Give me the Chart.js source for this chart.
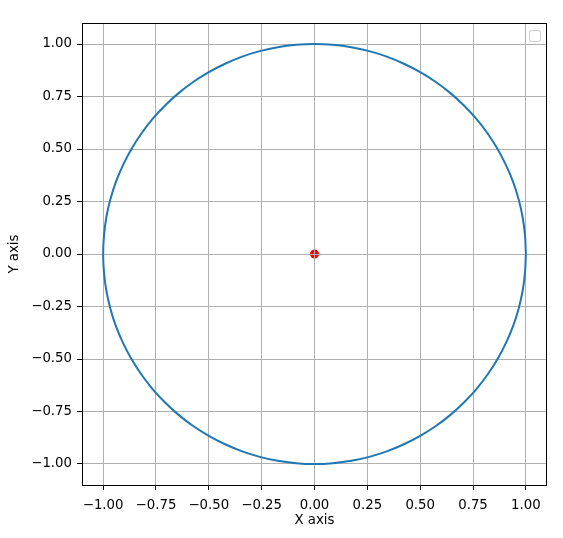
<!DOCTYPE html>
<html lang="en">
<head>
  <meta charset="UTF-8">
  <title>Circle</title>
  <style>
    body {
        margin: 0;
        padding: 0;
        background: #fff;
    }
    .wrap {
        width: 563px;
        height: 538px;
        position: relative;
    }
  </style>
</head>
<body>
  <div class="wrap">
    <canvas id="circleChart" width="563" height="538"></canvas>
  </div>

  <script src="https://cdn.jsdelivr.net/npm/chart.js"></script>
  <script>
    // data
    const axisTicks = [-1.0, -0.75, -0.5, -0.25, 0.0, 0.25, 0.5, 0.75, 1.0];
    const circleX = [1.000, 0.996, 0.985, 0.966, 0.940, 0.906, 0.866, 0.819, 0.766, 0.707,
                     0.643, 0.574, 0.500, 0.423, 0.342, 0.259, 0.174, 0.087, 0.000,
                     -0.087, -0.174, -0.259, -0.342, -0.423, -0.500, -0.574, -0.643, -0.707,
                     -0.766, -0.819, -0.866, -0.906, -0.940, -0.966, -0.985, -0.996, -1.000,
                     -0.996, -0.985, -0.966, -0.940, -0.906, -0.866, -0.819, -0.766, -0.707,
                     -0.643, -0.574, -0.500, -0.423, -0.342, -0.259, -0.174, -0.087, 0.000,
                     0.087, 0.174, 0.259, 0.342, 0.423, 0.500, 0.574, 0.643, 0.707,
                     0.766, 0.819, 0.866, 0.906, 0.940, 0.966, 0.985, 0.996, 1.000];
    const circleY = [0.000, 0.087, 0.174, 0.259, 0.342, 0.423, 0.500, 0.574, 0.643, 0.707,
                     0.766, 0.819, 0.866, 0.906, 0.940, 0.966, 0.985, 0.996, 1.000,
                     0.996, 0.985, 0.966, 0.940, 0.906, 0.866, 0.819, 0.766, 0.707,
                     0.643, 0.574, 0.500, 0.423, 0.342, 0.259, 0.174, 0.087, 0.000,
                     -0.087, -0.174, -0.259, -0.342, -0.423, -0.500, -0.574, -0.643, -0.707,
                     -0.766, -0.819, -0.866, -0.906, -0.940, -0.966, -0.985, -0.996, -1.000,
                     -0.996, -0.985, -0.966, -0.940, -0.906, -0.866, -0.819, -0.766, -0.707,
                     -0.643, -0.574, -0.500, -0.423, -0.342, -0.259, -0.174, -0.087, 0.000];
    const centerX = [0];
    const centerY = [0];

    const FONT = "'DejaVu Sans', sans-serif";
    const FONT_SIZE = 13.3;

    function fmtTick(v) {
      return Number(v).toFixed(2).replace('-', '\u2212');
    }

    // frame, axis titles, empty legend box
    const framePlugin = {
      id: 'frame',
      beforeDatasetDraw(chart, args) {
        // grid sits above the scatter point but under the line
        if (args.index === 0) {
          chart.scales.x.drawGrid(chart.chartArea);
          chart.scales.y.drawGrid(chart.chartArea);
        }
      },
      afterDraw(chart) {
        const ctx = chart.ctx;
        const a = chart.chartArea;
        ctx.save();
        ctx.strokeStyle = '#000';
        ctx.lineWidth = 1;
        ctx.strokeRect(a.left + 0.5, a.top + 0.5, a.right - a.left - 1, a.bottom - a.top);

        ctx.fillStyle = '#000';
        ctx.font = FONT_SIZE + 'px ' + FONT;
        ctx.textAlign = 'center';
        ctx.textBaseline = 'middle';
        ctx.fillText('X axis', (a.left + a.right) / 2, 521);
        ctx.translate(15, (a.top + a.bottom) / 2);
        ctx.rotate(-Math.PI / 2);
        ctx.fillText('Y axis', 0, 0);
        ctx.restore();

        // empty legend
        ctx.save();
        ctx.fillStyle = 'rgba(255,255,255,0.8)';
        ctx.strokeStyle = '#cccccc';
        ctx.lineWidth = 1;
        ctx.beginPath();
        ctx.roundRect(529.5, 30.5, 11, 11, 2);
        ctx.fill();
        ctx.stroke();
        ctx.restore();
      }
    };

    const ctx = document.getElementById('circleChart').getContext('2d');
    new Chart(ctx, {
      type: 'scatter',
      data: {
        datasets: [
          {
            label: 'circle',
            data: circleX.map((x, i) => ({ x: x, y: circleY[i] })),
            showLine: true,
            borderColor: '#1f77b4',
            borderWidth: 2,
            pointRadius: 0,
            tension: 0.33,
            fill: false
          },
          {
            label: 'center',
            data: centerX.map((x, i) => ({ x: x, y: centerY[i] })),
            backgroundColor: '#ff0000',
            borderColor: '#ff0000',
            borderWidth: 0,
            pointRadius: 4.5
          }
        ]
      },
      options: {
        responsive: false,
        animation: false,
        devicePixelRatio: 1,
        layout: { padding: { top: 23, right: 16, left: 0, bottom: 0 } },
        plugins: {
          legend: { display: false },
          tooltip: { enabled: false }
        },
        scales: {
          x: {
            type: 'linear',
            min: -1.1,
            max: 1.1,
            afterBuildTicks: (s) => { s.ticks = axisTicks.map(v => ({ value: v })); },
            afterFit: (s) => { s.height = 53; },
            grid: { color: '#b0b0b0', lineWidth: 1, tickColor: '#000', tickLength: 5, drawTicks: true },
            border: { display: false },
            ticks: {
              color: '#000',
              font: { family: FONT, size: FONT_SIZE },
              padding: 8,
              maxRotation: 0,
              autoSkip: false,
              callback: (v) => fmtTick(v)
            }
          },
          y: {
            type: 'linear',
            min: -1.1,
            max: 1.1,
            afterBuildTicks: (s) => { s.ticks = axisTicks.map(v => ({ value: v })); },
            afterFit: (s) => { s.width = 82; },
            grid: { color: '#b0b0b0', lineWidth: 1, tickColor: '#000', tickLength: 5, drawTicks: true },
            border: { display: false },
            ticks: {
              color: '#000',
              font: { family: FONT, size: FONT_SIZE },
              padding: 5,
              autoSkip: false,
              callback: (v) => fmtTick(v)
            }
          }
        }
      },
      plugins: [framePlugin]
    });
  </script>
</body>
</html>
